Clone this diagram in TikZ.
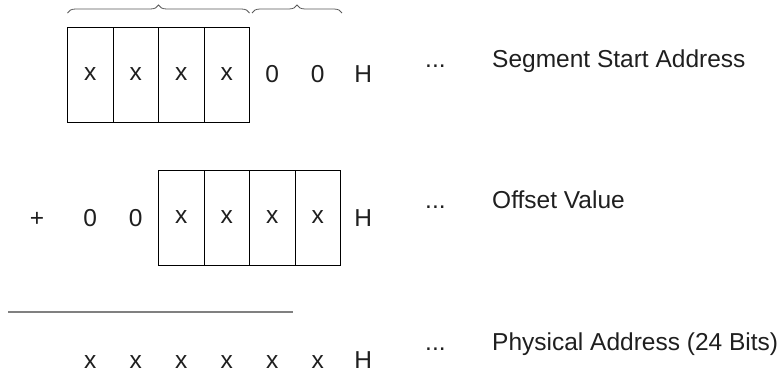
\documentclass[tikz,border=0pt]{standalone}
\usepackage{fontspec}
\setmainfont{Liberation Sans}
\usetikzlibrary{decorations.pathreplacing}
\begin{document}
\begin{tikzpicture}[x=1pt,y=-1pt,
  font=\fontsize{24.5}{29}\selectfont,
  every node/.style={text=black!88},
  cell/.style={draw=black, line width=0.9pt, minimum width=45.5pt, minimum height=95pt, inner sep=0pt},
  ch/.style={anchor=base, inner sep=0pt},
  lab/.style={anchor=base west, inner sep=0pt},
  brc/.style={draw=black!65, line width=0.8pt, decorate, decoration={brace, amplitude=8pt}},
  rule/.style={draw=black!50, line width=1.5pt}]
\useasboundingbox (0,0) rectangle (780,375);
% Row 1
\node[cell] (a1) at (90.25,74.5) {x};
\node[cell] (a2) at (135.75,74.5) {x};
\node[cell] (a3) at (181.25,74.5) {x};
\node[cell] (a4) at (226.75,74.5) {x};
\node[ch] (a5) at (272.25,82) {0};
\node[ch] (a6) at (317.75,82) {0};
\node[ch] (a7) at (363.25,82) {H};
\node[lab] (ad) at (425,67) {...};
\node[lab] (al) at (492,67) {Segment Start Address};
\coordinate (b1) at (67.5,13);
\coordinate (b2) at (249.5,13);
\coordinate (b3) at (252,13);
\coordinate (b4) at (342,13);
\draw[brc] (b1) -- (b2);
\draw[brc] (b3) -- (b4);
% Row 2
\node[ch] (bp) at (37,226) {+};
\node[ch] (b01) at (90.25,226) {0};
\node[ch] (b02) at (135.75,226) {0};
\node[cell] (c1) at (181.25,217.5) {x};
\node[cell] (c2) at (226.75,217.5) {x};
\node[cell] (c3) at (272.25,217.5) {x};
\node[cell] (c4) at (317.75,217.5) {x};
\node[ch] (bH) at (363.25,226) {H};
\node[lab] (bd) at (425,208) {...};
\node[lab] (bl) at (492,208) {Offset Value};
% Rule
\coordinate (r1) at (8,312);
\coordinate (r2) at (293,312);
\draw[rule] (r1) -- (r2);
% Row 3
\node[ch] (d1) at (90.25,368) {x};
\node[ch] (d2) at (135.75,368) {x};
\node[ch] (d3) at (181.25,368) {x};
\node[ch] (d4) at (226.75,368) {x};
\node[ch] (d5) at (272.25,368) {x};
\node[ch] (d6) at (317.75,368) {x};
\node[ch] (dH) at (363.25,368) {H};
\node[lab] (dd) at (425,350) {...};
\node[lab] (dl) at (492,350) {Physical Address (24 Bits)};
\end{tikzpicture}
\end{document}
